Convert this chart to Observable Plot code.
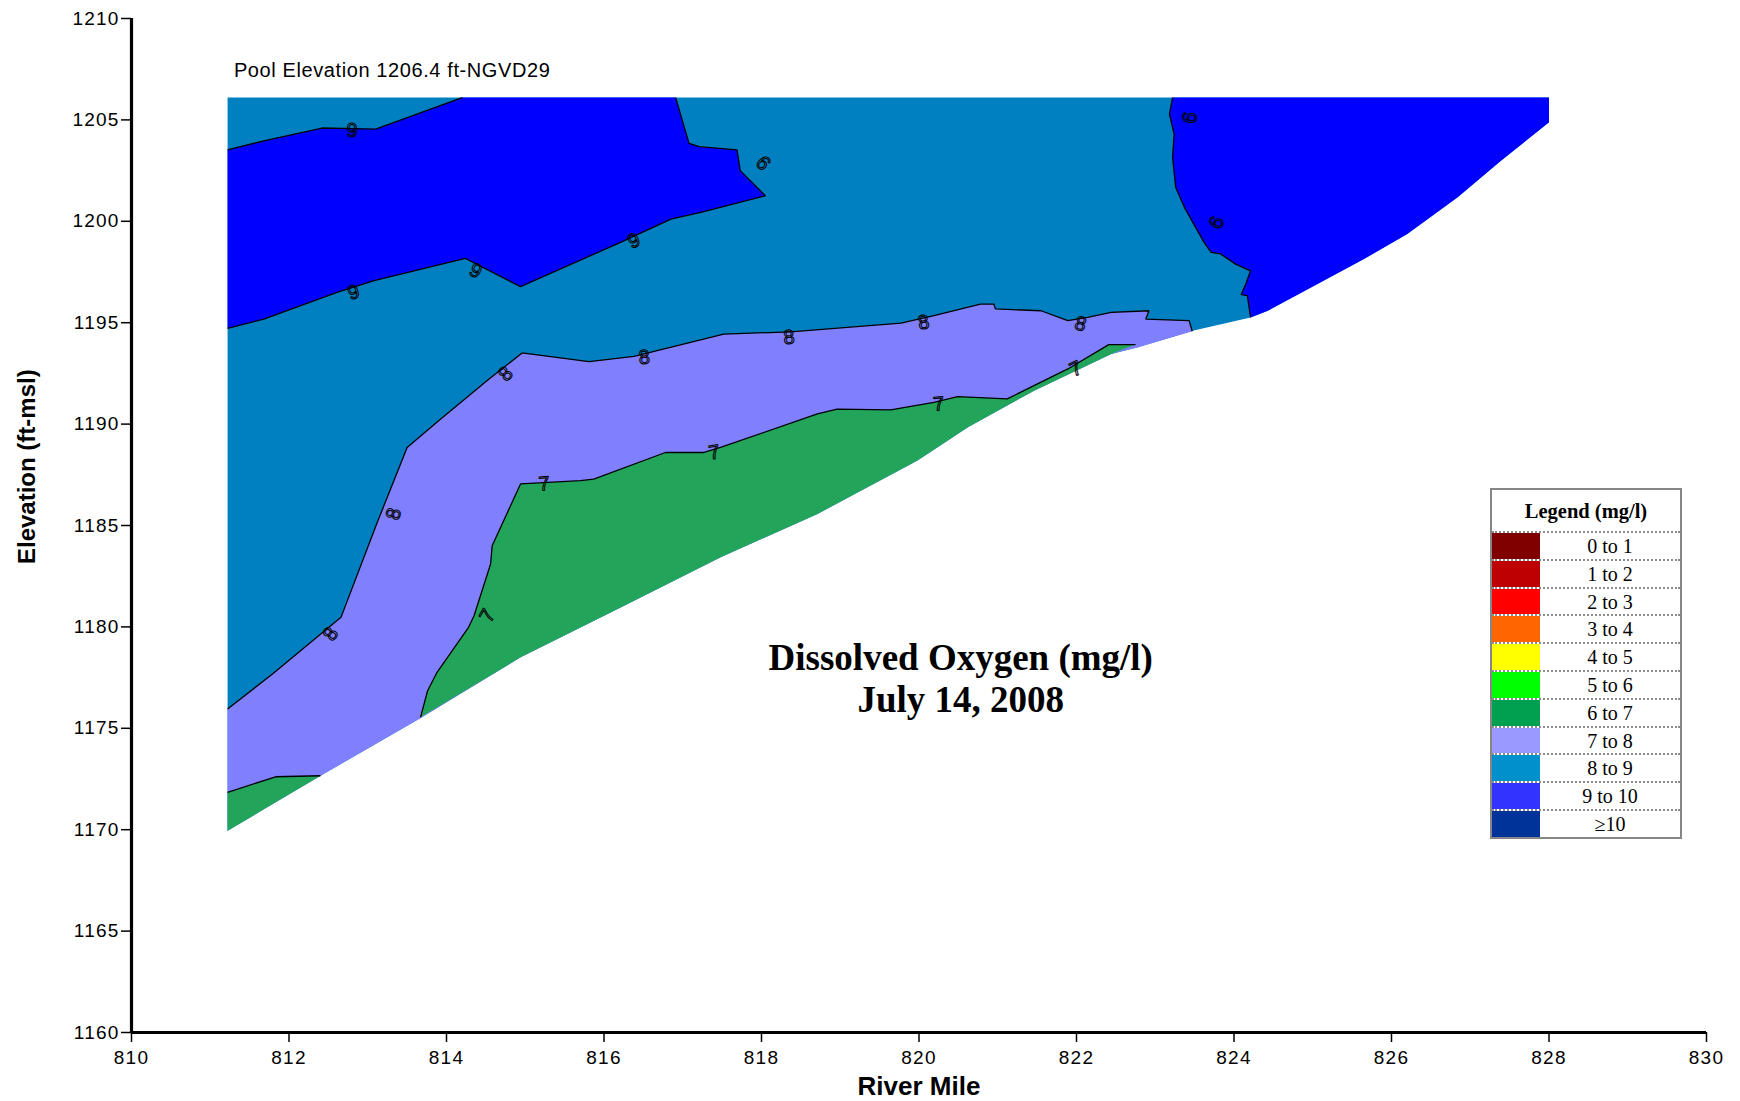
<!DOCTYPE html>
<html>
<head>
<meta charset="utf-8">
<script src="https://cdn.jsdelivr.net/npm/d3@7"></script>
<script src="https://cdn.jsdelivr.net/npm/@observablehq/plot@0.6"></script>
<style>
  html, body { margin: 0; padding: 0; background: #fff; }
  #wrap { position: relative; width: 1740px; height: 1101px; overflow: hidden; }
  #wrap svg { display: block; }
  [aria-label="y-axis tick label"] text, [aria-label="x-axis tick label"] text { letter-spacing: 1.2px; }
  #legend { position: absolute; left: 1490px; top: 488px; width: 188px; border: 2px solid #868686; background: #fff;
            font-family: "Liberation Serif", "Times New Roman", serif; color: #000; }
  #legend .ttl { height: 41px; line-height: 43px; text-align: center; font-weight: bold; font-size: 20.5px; }
  #legend .row { height: 25.8px; border-top: 2px dotted #8c8c8c; display: flex; align-items: stretch; }
  #legend .sw { width: 48px; flex: none; }
  #legend .lab { flex: 1; text-align: center; font-size: 20px; line-height: 26px; }
</style>
</head>
<body>
<div id="wrap"></div>
<script>
// ---------- data (river mile, elevation ft) ----------
const waterSurface = 1206.1;

// channel bed (lower boundary of the sampled section)
const bed = [[811.22,1169.95],[812.40,1172.66],[813.65,1175.46],[814.94,1178.50],[816.21,1180.96],
  [817.48,1183.43],[818.71,1185.57],[819.98,1188.20],[820.62,1189.84],[821.46,1191.65],[822.44,1193.46],
  [822.77,1193.78],[823.49,1194.61],[824.21,1195.26],[824.43,1195.59],[825.06,1196.91],[825.65,1198.14],
  [826.20,1199.37],[826.84,1201.18],[827.39,1202.99],[828.00,1204.88]];

// 9 mg/l isolines
const iso9UpperLeftTop = [[811.22,1203.52],[811.68,1203.97],[812.42,1204.60],[813.10,1204.55],[814.20,1206.1]];
const iso9UpperLeftBottom = [[816.91,1206.1],[817.08,1203.84],[817.21,1203.68],[817.69,1203.52],[817.73,1202.50],
  [818.05,1201.26],[817.23,1200.44],[816.85,1200.11],[816.21,1198.96],[814.94,1196.78],[814.24,1198.17],
  [813.08,1197.07],[812.61,1196.49],[811.68,1195.18],[811.22,1194.72]];
const iso9Right = [[823.22,1206.1],[823.18,1205.29],[823.24,1204.30],[823.22,1203.15],[823.26,1201.67],
  [823.37,1200.69],[823.62,1198.96],[823.71,1198.47],[823.83,1198.39],[824.02,1197.89],[824.21,1197.56],
  [824.15,1196.91],[824.09,1196.38],[824.17,1196.33],[824.21,1195.26]];

// 8 mg/l isoline
const iso8 = [[811.22,1175.95],[811.79,1177.68],[812.66,1180.47],[813.12,1185.15],[813.50,1188.85],
  [813.90,1190.17],[814.54,1192.22],[814.96,1193.51],[815.81,1193.08],[816.38,1193.34],[817.52,1194.44],
  [818.37,1194.55],[819.77,1194.98],[820.19,1195.35],[820.78,1195.92],[820.95,1195.92],[820.97,1195.68],
  [821.55,1195.59],[821.89,1195.10],[822.14,1195.26],[822.44,1195.51],[822.92,1195.59],[822.88,1195.18],
  [823.43,1195.10],[823.47,1194.58]];

// 7 mg/l isolines
const iso7 = [[813.67,1175.54],[813.76,1176.85],[813.88,1177.76],[814.28,1179.98],[814.35,1180.55],
  [814.56,1183.10],[814.58,1184.00],[814.94,1187.05],[815.70,1187.21],[815.87,1187.29],[816.78,1188.60],
  [817.27,1188.60],[817.48,1188.85],[818.71,1190.50],[818.96,1190.74],[819.64,1190.70],[820.19,1191.07],
  [820.49,1191.35],[820.70,1191.32],[821.12,1191.24],[821.89,1192.72],[822.41,1193.92],[822.75,1193.92]];
const iso7Left = [[811.22,1171.84],[811.83,1172.61],[812.40,1172.66]];

// contour labels
const labelText  = ["9","9","9","9","9","9","9", "8","8","8","8","8","8","8", "7","7","7","7","7"];
const labelMile  = [812.80,818.03,816.38,814.37,812.82,823.43,823.77, 814.75,816.51,818.35,820.06,822.05,813.33,812.53, 815.24,817.40,820.25,821.99,814.52];
const labelElev  = [1204.47,1202.90,1199.04,1197.56,1196.49,1205.12,1199.95, 1192.47,1193.29,1194.28,1195.01,1194.94,1185.57,1179.65, 1187.05,1188.60,1190.99,1192.72,1180.55];
const labelAngle = [0,225,-24,27,-18,100,115, -45,-5,-5,-10,15,-75,-55, -5,-10,-5,-25,-60];

// DO classes and colours
const classLabels   = ["0 to 1","1 to 2","2 to 3","3 to 4","4 to 5","5 to 6","6 to 7","7 to 8","8 to 9","9 to 10","\u226510"];
const legendColors  = ["#800000","#bf0000","#ff0000","#ff6600","#ffff00","#00ff00","#00a050","#9999ff","#0090cc","#3333ff","#003399"];
const plotColors    = {c67: "#22a55b", c78: "#8080ff", c89: "#0080c0", c910: "#0000ff"};

// axis ticks and text
const xTicks = d3.range(810, 831, 2);
const yTicks = d3.range(1160, 1211, 5);
const titleLines = "Dissolved Oxygen (mg/l)\nJuly 14, 2008";
const titleAt = [820.53, 1177.51];
const poolText = "Pool Elevation 1206.4 ft-NGVD29";
const poolAt = [811.30, 1207.44];
const xLabel = "River Mile";
const yLabel = "Elevation (ft-msl)";

// ---------- polygons built from the isolines ----------
const first = a => a[0], last = a => a[a.length - 1];
const domainPoly = [[first(bed)[0], waterSurface], [last(bed)[0], waterSurface], ...bed.slice().reverse()];
const ul9Poly = [...iso9UpperLeftTop, ...iso9UpperLeftBottom];
const r9Poly = [...iso9Right, ...bed.filter(d => d[0] > last(iso9Right)[0]), [last(bed)[0], waterSurface]];
const band78Poly = [...iso8, ...bed.filter(d => d[0] < last(iso8)[0]).reverse()];
const band67Poly = [...iso7, ...bed.filter(d => d[0] < last(iso7)[0] && d[0] > first(iso7)[0]).reverse()];
const band67LeftPoly = [...iso7Left, ...bed.filter(d => d[0] < last(iso7Left)[0]).reverse()];

const X = d => d[0], Y = d => d[1];
const fillPoly = (p, c) => Plot.line(p, {x: X, y: Y, fill: c, stroke: "none"});
const isoLine = p => Plot.line(p, {x: X, y: Y, stroke: "#000", strokeWidth: 1.3, strokeLinejoin: "miter", strokeLinecap: "butt"});

const sans = "Liberation Sans, Arial, sans-serif";
const serif = "Liberation Serif, Times New Roman, serif";

const chart = Plot.plot({
  width: 1740,
  height: 1101,
  marginLeft: 131,
  marginRight: 34,
  marginTop: 18,
  marginBottom: 69,
  style: {fontFamily: sans, background: "#fff", color: "#000", overflow: "visible"},
  x: {domain: [810, 830]},
  y: {domain: [1160, 1210]},
  marks: [
    fillPoly(domainPoly, plotColors.c89),
    fillPoly(ul9Poly, plotColors.c910),
    fillPoly(r9Poly, plotColors.c910),
    fillPoly(band78Poly, plotColors.c78),
    fillPoly(band67Poly, plotColors.c67),
    fillPoly(band67LeftPoly, plotColors.c67),
    isoLine(iso9UpperLeftTop),
    isoLine(iso9UpperLeftBottom),
    isoLine(iso9Right),
    isoLine(iso8),
    isoLine(iso7),
    isoLine(iso7Left),
    Plot.text(d3.range(labelText.length), {
      x: i => labelMile[i], y: i => labelElev[i], text: i => labelText[i], rotate: i => labelAngle[i],
      fontSize: 20, fill: "none", stroke: "#000", strokeWidth: 1, fontFamily: sans
    }),
    Plot.axisY({ticks: yTicks, tickFormat: "d", tickSize: 10, tickPadding: 2, fontSize: 19, strokeWidth: 1.5, label: null}),
    Plot.axisX({ticks: xTicks, tickFormat: "d", tickSize: 10, tickPadding: 8, fontSize: 19, strokeWidth: 1.5, label: null}),
    Plot.ruleX([810], {y1: 1160, y2: 1210, strokeWidth: 3.2}),
    Plot.ruleY([1160], {x1: 810, x2: 830, strokeWidth: 3.2}),
    Plot.text([poolText], {x: poolAt[0], y: poolAt[1], textAnchor: "start", fontSize: 20, fontFamily: sans}),
    Plot.text([titleLines], {x: titleAt[0], y: titleAt[1], textAnchor: "middle", fontSize: 37, lineHeight: 1.135,
      fontWeight: "bold", fontFamily: serif}),
    Plot.text([xLabel], {x: 820, frameAnchor: "bottom", textAnchor: "middle", dy: 62, fontSize: 26, fontWeight: "bold", fontFamily: sans}),
    Plot.text([yLabel], {y: 1187.9, frameAnchor: "left", textAnchor: "middle", dx: -104.4, rotate: -90, fontSize: 24,
      fontWeight: "bold", fontFamily: sans})
  ]
});

// slight letter-spacing to match the wider lettering of the original
d3.select(chart).selectAll("text")
  .filter(function () { return this.textContent === poolText; })
  .attr("letter-spacing", "0.6px");

const wrap = document.getElementById("wrap");
wrap.appendChild(chart);

// legend (HTML, beside the section)
const legend = document.createElement("div");
legend.id = "legend";
legend.innerHTML = `<div class="ttl">Legend (mg/l)</div>` +
  classLabels.map((t, i) => `<div class="row"><div class="sw" style="background:${legendColors[i]}"></div><div class="lab">${t}</div></div>`).join("");
wrap.appendChild(legend);
</script>
</body>
</html>
